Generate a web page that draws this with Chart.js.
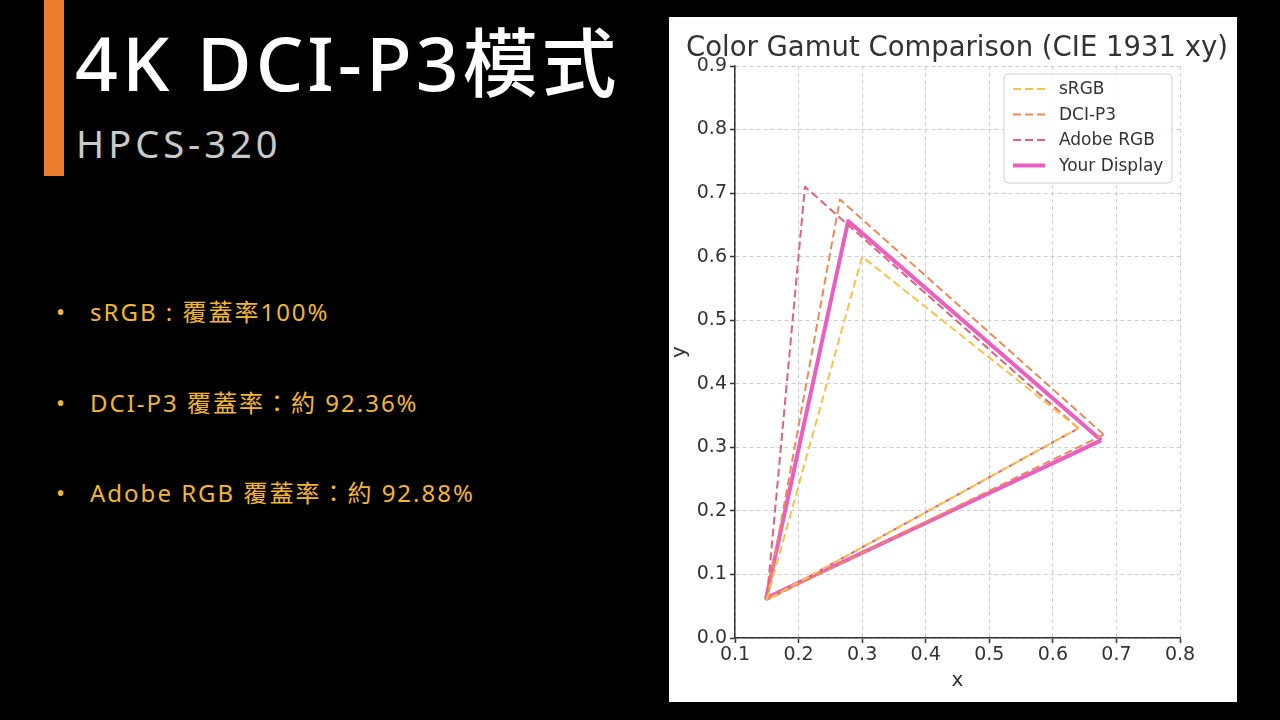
<!DOCTYPE html>
<html>
<head>
<meta charset="utf-8">
<script src="https://cdn.jsdelivr.net/npm/chart.js@4/dist/chart.umd.min.js"></script>
<style>
  html, body { margin: 0; padding: 0; background: #000; }
  body { width: 1280px; height: 720px; position: relative; overflow: hidden;
         font-family: "Noto Sans", "Noto Sans CJK TC", sans-serif; }
  .bar { position: absolute; left: 44px; top: 0; width: 20px; height: 176px; background: #ec7d2f; }
  .title { position: absolute; left: 75px; top: 25px; font-size: 75px; font-weight: 500; line-height: 1; letter-spacing: 4px; color: #fff; white-space: nowrap; }
  .sub { position: absolute; left: 76px; top: 124px; font-size: 38px; line-height: 1; letter-spacing: 4px; color: #c9c9c9; }
  .item { position: absolute; left: 0; font-size: 24px; line-height: 1; color: #f2b632; white-space: nowrap; }
  .item .dot { position: absolute; left: 56px; }
  .item .txt { position: absolute; left: 90px; letter-spacing: 2px; }
  .panel { position: absolute; left: 669px; top: 17px; width: 568px; height: 685px; background: #fff; }
  canvas { position: absolute; left: 0; top: 0; }
</style>
</head>
<body>
<div class="bar"></div>
<div class="title">4K DCI-P3模式</div>
<div class="sub">HPCS-320</div>
<div class="item" style="top:300px"><span class="dot">•</span><span class="txt">sRGB : 覆蓋率100%</span></div>
<div class="item" style="top:391px"><span class="dot">•</span><span class="txt">DCI-P3 覆蓋率：約 92.36%</span></div>
<div class="item" style="top:481px"><span class="dot">•</span><span class="txt">Adobe RGB 覆蓋率：約 92.88%</span></div>
<div class="panel"><canvas id="gamut" width="568" height="685"></canvas></div>

<script>
// gamut triangles, vertices R, G, B and back to R to close
const seriesNames = ['sRGB', 'DCI-P3', 'Adobe RGB', 'Your Display'];
const srgbX = [0.64, 0.30, 0.15, 0.64];
const srgbY = [0.33, 0.60, 0.06, 0.33];
const p3X = [0.68, 0.265, 0.15, 0.68];
const p3Y = [0.32, 0.69, 0.06, 0.32];
const adobeX = [0.64, 0.21, 0.15, 0.64];
const adobeY = [0.33, 0.71, 0.06, 0.33];
const displayX = [0.676, 0.278, 0.149, 0.676];
const displayY = [0.311, 0.656, 0.063, 0.311];
const xTicks = [0.1, 0.2, 0.3, 0.4, 0.5, 0.6, 0.7, 0.8];
const yTicks = [0.0, 0.1, 0.2, 0.3, 0.4, 0.5, 0.6, 0.7, 0.8, 0.9];

const toPoints = (xs, ys) => xs.map((x, i) => ({ x: x, y: ys[i] }));

const tickFont = { family: 'DejaVu Sans', size: 19 };
const axisTitleFont = { family: 'DejaVu Sans', size: 20 };

// title spans (almost) the whole canvas, not only the padded width
const wideTitle = {
  id: 'wideTitle',
  afterLayout(chart) {
    const t = chart.titleBlock;
    if (!t) return;
    t.left = 8;
    t.right = chart.width;
    t.width = chart.width - 8;
  }
};

// matplotlib-ish legend box in the upper right of the plot
const boxLegend = {
  id: 'boxLegend',
  afterDatasetsDraw(chart) {
    const { ctx, chartArea } = chart;
    const w = 168, h = 109;
    const x0 = chartArea.right - 8 - w;
    const y0 = chartArea.top + 8;
    ctx.save();
    ctx.beginPath();
    ctx.roundRect(x0, y0, w, h, 4);
    ctx.fillStyle = 'rgba(255,255,255,0.85)';
    ctx.fill();
    ctx.lineWidth = 1;
    ctx.strokeStyle = '#d0d0d0';
    ctx.stroke();
    ctx.font = '17px "DejaVu Sans"';
    ctx.textBaseline = 'middle';
    chart.data.datasets.forEach((ds, i) => {
      const y = y0 + 15 + i * 25.5;
      ctx.beginPath();
      ctx.setLineDash(ds.borderDash || []);
      ctx.lineWidth = ds.borderWidth;
      ctx.strokeStyle = ds.borderColor;
      ctx.moveTo(x0 + 9, y);
      ctx.lineTo(x0 + 41, y);
      ctx.stroke();
      ctx.setLineDash([]);
      ctx.fillStyle = '#333';
      ctx.fillText(ds.label, x0 + 55, y + 1);
    });
    ctx.restore();
  }
};

new Chart(document.getElementById('gamut').getContext('2d'), {
  type: 'scatter',
  data: {
    datasets: [
      { label: seriesNames[0], data: toPoints(srgbX, srgbY), borderColor: '#f5c44c', borderWidth: 2, borderDash: [8, 4] },
      { label: seriesNames[1], data: toPoints(p3X, p3Y), borderColor: '#ec8a5a', borderWidth: 2, borderDash: [8, 4] },
      { label: seriesNames[2], data: toPoints(adobeX, adobeY), borderColor: '#e2617c', borderWidth: 2, borderDash: [8, 4] },
      { label: seriesNames[3], data: toPoints(displayX, displayY), borderColor: '#ea5fc0', borderWidth: 4 }
    ].map(ds => Object.assign(ds, { showLine: true, fill: false, tension: 0, pointRadius: 0, borderJoinStyle: 'round' }))
  },
  options: {
    responsive: false,
    devicePixelRatio: 1,
    animation: false,
    layout: { padding: { left: 0, right: 57, top: 0, bottom: 0 } },
    plugins: {
      legend: { display: false },
      tooltip: { enabled: false },
      title: {
        display: true,
        text: 'Color Gamut Comparison (CIE 1931 xy)',
        color: '#333',
        font: { family: 'DejaVu Sans', size: 27.5, weight: 'normal' },
        padding: { top: 15, bottom: 1 }
      }
    },
    scales: {
      x: {
        type: 'linear', min: 0.1, max: 0.8,
        afterFit(s) { s.height = 64; },
        afterBuildTicks(s) { s.ticks = xTicks.map(v => ({ value: v })); },
        ticks: { color: '#333', font: tickFont, padding: 1, maxRotation: 0, callback: v => v.toFixed(1) },
        grid: { color: '#cfcfcf', lineWidth: 1, tickLength: 5, tickColor: '#333', tickWidth: 1.5 },
        border: { display: true, color: '#333', width: 1.5, dash: [4, 3] },
        title: { display: true, text: 'x', color: '#333', font: axisTitleFont, padding: { top: 0, bottom: 9 } }
      },
      y: {
        type: 'linear', min: 0, max: 0.9,
        afterFit(s) { s.width = 66; },
        afterBuildTicks(s) { s.ticks = yTicks.map(v => ({ value: v })); },
        ticks: { color: '#333', font: tickFont, padding: 3, callback: v => v.toFixed(1) },
        grid: { color: '#cfcfcf', lineWidth: 1, tickLength: 5, tickColor: '#333', tickWidth: 1.5 },
        border: { display: true, color: '#333', width: 1.5, dash: [4, 3] },
        title: { display: true, text: 'y', color: '#333', font: axisTitleFont, padding: { top: -1, bottom: 0 } }
      }
    }
  },
  plugins: [wideTitle, boxLegend]
});
</script>
</body>
</html>
